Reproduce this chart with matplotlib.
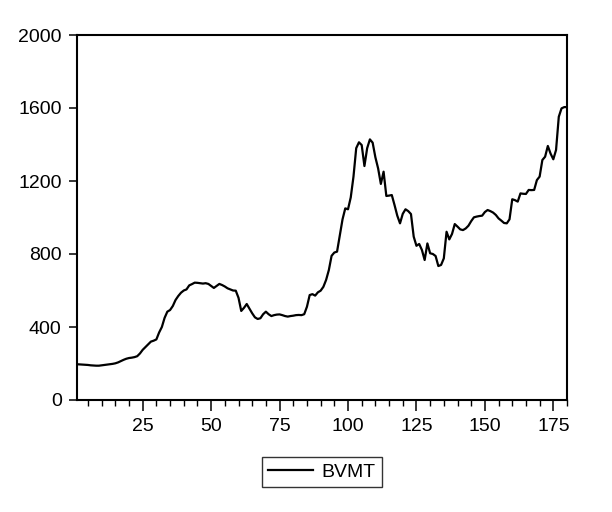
import numpy as np
import matplotlib
matplotlib.use('Agg')
import matplotlib.pyplot as plt
from matplotlib.ticker import MultipleLocator

bvmt = [
    196, 195, 194, 193, 192, 190, 189, 188, 188, 190,
    192, 194, 196, 198, 201, 206, 213, 220, 226, 230,
    232, 235, 240, 255, 275, 290, 305, 320, 325, 332,
    370, 400, 450, 484, 493, 515, 548, 570, 588, 600,
    606, 628, 635, 643, 642, 640, 638, 640, 636, 625,
    614, 625, 636, 630, 622, 612, 606, 600, 599, 560,
    488, 505, 526, 500, 475, 453, 444, 448, 470, 484,
    470, 460, 465, 468, 469, 465, 460, 457, 460, 462,
    465, 466, 465, 470, 511, 575, 580, 572, 590, 599,
    620, 658, 712, 790, 808, 813, 900, 990, 1050, 1045,
    1110, 1224, 1380, 1412, 1397, 1282, 1380, 1428, 1410, 1330,
    1269, 1184, 1251, 1118, 1120, 1123, 1068, 1010, 968, 1020,
    1045, 1035, 1019, 895, 845, 855, 822, 767, 858, 804,
    800, 789, 734, 740, 776, 922, 880, 910, 964, 950,
    935, 931, 940, 955, 980, 1001, 1005, 1008, 1010, 1030,
    1041, 1035, 1027, 1014, 995, 983, 970, 968, 990, 1100,
    1095, 1087, 1132, 1130, 1129, 1151, 1150, 1151, 1205, 1224,
    1315, 1333, 1392, 1350, 1319, 1370, 1552, 1598, 1605, 1605,
]
obs = np.arange(1, len(bvmt) + 1)
y_ticks = [0, 400, 800, 1200, 1600, 2000]
x_ticks = [25, 50, 75, 100, 125, 150, 175]

plt.rcParams['font.family'] = ['Liberation Sans', 'DejaVu Sans']

fig = plt.figure(figsize=(6.12, 5.12), dpi=100)
ax = fig.add_axes([77/612, 112/512, 490/612, 365/512])

ax.plot(obs, bvmt, color='black', lw=1.6, label='BVMT')

ax.set_xlim(1, 180)
ax.set_ylim(0, 2000)
ax.set_yticks(y_ticks)
ax.set_xticks(x_ticks)
ax.xaxis.set_minor_locator(MultipleLocator(5))

for sp in ax.spines.values():
    sp.set_linewidth(1.5)

ax.tick_params(axis='y', which='major', direction='out', length=6, width=1.1,
               labelsize=14, pad=5, right=False)
ax.tick_params(axis='x', which='major', direction='out', length=8, width=1.1,
               labelsize=14, pad=5, top=False)
ax.tick_params(axis='x', which='minor', direction='out', length=4, width=1.0, top=False)

leg = fig.legend(loc='center', bbox_to_anchor=(322/612, 1 - 472/512),
                 fontsize=14, frameon=True, fancybox=False, edgecolor='black',
                 handlelength=2.3, borderpad=0.3, borderaxespad=0,
                 handletextpad=0.45)
leg.get_frame().set_linewidth(1.0)

fig.savefig('out.png', dpi=100)
